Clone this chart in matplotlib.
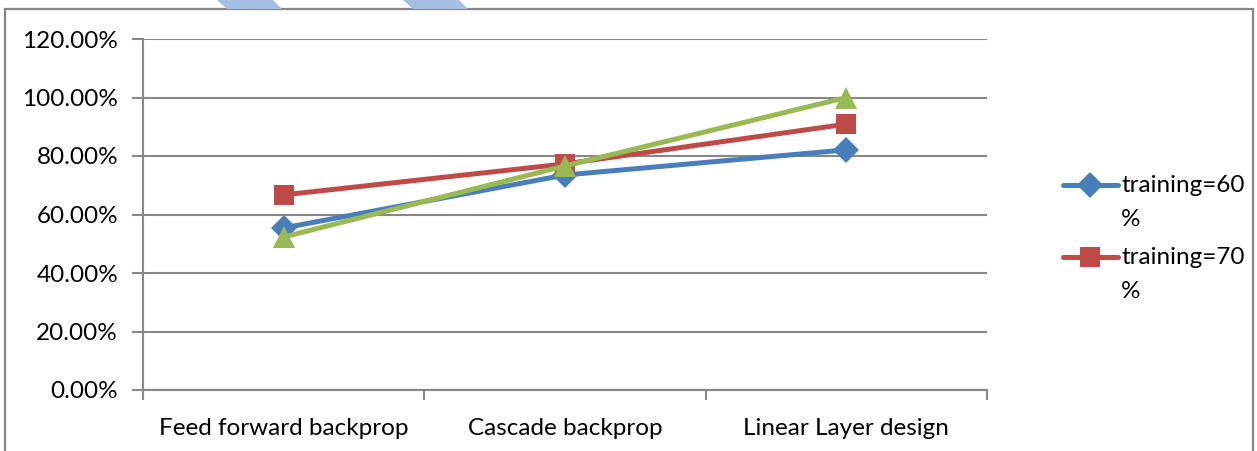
import matplotlib
matplotlib.use("Agg")
import matplotlib.pyplot as plt
from matplotlib.lines import Line2D
from matplotlib.patches import Polygon, Rectangle
from matplotlib.ticker import FuncFormatter, FixedLocator

# Accuracy per network type (fraction of samples classified correctly)
categories = ["Feed forward backprop", "Cascade backprop", "Linear Layer design"]
series_names = ["training=60%", "training=70%", "training=80%"]
acc_60 = [0.554, 0.735, 0.821]
acc_70 = [0.667, 0.773, 0.909]
acc_80 = [0.523, 0.766, 1.000]
y_ticks = [0.0, 0.2, 0.4, 0.6, 0.8, 1.0, 1.2]

colors = ["#4a7ebb", "#be4b48", "#98b954"]
markers = ["D", "s", "^"]
marker_sizes = [13, 14.5, 15.5]

plt.rcParams["font.family"] = ["Lato", "DejaVu Sans"]
LABEL_SIZE = 17.5

fig = plt.figure(figsize=(12.57, 4.51), dpi=100)
fig.patch.set_facecolor("white")

# Outer chart border and the faint diagonal bands over the top edge
fig.add_artist(Rectangle((5 / 1257, -0.05), 1248 / 1257, 1 - 9 / 451 + 0.05,
                         transform=fig.transFigure, fill=False,
                         edgecolor="#878787", linewidth=1.6))
for x0 in (217, 403):
    pts = [(x0, 0), (x0 + 56, 0), (x0 + 65, 9), (x0 + 10, 9)]
    fig.add_artist(Polygon([(px / 1257, 1 - py / 451) for px, py in pts],
                           closed=True, transform=fig.transFigure,
                           facecolor="#a6bee3", edgecolor="none"))

ax = fig.add_axes([143 / 1257, 1 - 390 / 451, 844 / 1257, 351 / 451])
ax.set_facecolor("white")

xpos = [i + 0.5 for i in range(len(categories))]
all_series = [acc_60, acc_70, acc_80]
for vals, c, m, ms in zip(all_series, colors, markers, marker_sizes):
    ax.plot(xpos, vals, color=c, linewidth=3.6, marker=m, markersize=ms,
            markeredgewidth=0, solid_capstyle="round", zorder=3, clip_on=False)

ax.set_xlim(0, len(categories))
ax.set_ylim(y_ticks[0], y_ticks[-1])
ax.set_yticks(y_ticks)
ax.yaxis.set_major_formatter(FuncFormatter(lambda v, p: f"{v * 100:.2f}%"))
ax.grid(axis="y", color="#878787", linewidth=1.5, zorder=1)
ax.set_axisbelow(True)

ax.xaxis.set_major_locator(FixedLocator(range(len(categories) + 1)))
ax.xaxis.set_minor_locator(FixedLocator(xpos))
ax.set_xticklabels([])
ax.set_xticklabels(categories, minor=True)
ax.tick_params(axis="x", which="major", length=7, width=1.5, color="#878787")
ax.tick_params(axis="x", which="minor", length=0, pad=20, labelsize=LABEL_SIZE)
ax.tick_params(axis="y", length=8, width=1.5, color="#878787", pad=10,
               labelsize=LABEL_SIZE)

for side in ("top", "right"):
    ax.spines[side].set_visible(False)
for side in ("left", "bottom"):
    ax.spines[side].set_color("#878787")
    ax.spines[side].set_linewidth(1.5)

# Legend: handle beside the first line of each wrapped label
legend_rows = [185, 257]
for name, c, m, ms, y in zip(series_names[:2], colors, markers, marker_sizes, legend_rows):
    yf = 1 - y / 451
    fig.add_artist(Line2D([1063 / 1257, 1118 / 1257], [yf, yf],
                          transform=fig.transFigure, color=c, linewidth=3.6,
                          solid_capstyle="round"))
    fig.add_artist(Line2D([1090 / 1257], [yf], transform=fig.transFigure,
                          color=c, marker=m, markersize=ms, markeredgewidth=0,
                          linestyle="none"))
    head, tail = name[:-1], name[-1]
    fig.text(1121 / 1257, yf + 10 / 451, head + "\n" + tail, ha="left",
             va="top", fontsize=LABEL_SIZE, linespacing=1.75,
             transform=fig.transFigure)

fig.savefig("out.png", dpi=100, facecolor="white")
